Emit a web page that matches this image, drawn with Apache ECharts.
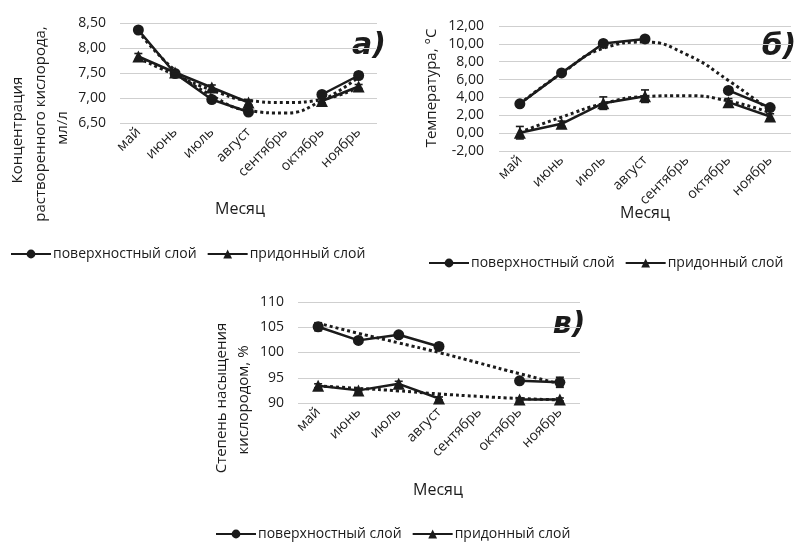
<!DOCTYPE html>
<html><head><meta charset="utf-8">
<script src="https://cdn.jsdelivr.net/npm/echarts@6/dist/echarts.min.js"></script>
<style>html,body{margin:0;padding:0;background:#fff}#c{width:797px;height:543px}</style>
</head><body><div id="c"></div>
<script>
const months = ['май','июнь','июль','август','сентябрь','октябрь','ноябрь'];
const seriesNames = ['поверхностный слой','придонный слой'];
// a) dissolved oxygen, ml/l
const aSurf = [8.36, 7.49, 6.97, 6.72, null, 7.07, 7.45];
const aBot  = [7.83, 7.51, 7.21, 6.91, null, 6.94, 7.23];
const aSurfTrend = [8.33, 7.55, 7.05, 6.75, 6.70, 6.95, 7.42];
const aBotTrend  = [7.80, 7.46, 7.16, 6.95, 6.91, 6.97, 7.21];
const aSurfErr = [0.03, 0.02, 0.02, 0.03, null, 0.03, 0.06];
const aBotErr  = [0.06, 0.02, 0.05, 0.05, null, 0.04, 0.04];
// б) temperature, °C
const bSurf = [3.28, 6.75, 10.05, 10.55, null, 4.78, 2.87];
const bBot  = [0.05, 1.05, 3.36, 4.14, null, 3.47, 1.87];
const bSurfTrend = [3.3, 6.7, 9.5, 10.2, 8.8, 5.9, 2.5];
const bBotTrend  = [0.1, 1.8, 3.3, 4.1, 4.2, 3.6, 2.3];
const bSurfErr = [0.2, 0.2, 0.2, 0.2, null, 0.3, 0.2];
const bBotErr  = [0.7, 0.3, 0.7, 0.7, null, 0.4, 0.3];
// в) oxygen saturation, %
const vSurf = [105.1, 102.4, 103.5, 101.2, null, 94.4, 94.1];
const vBot  = [93.4, 92.5, 93.8, 90.9, null, 90.7, 90.7];
const vSurfTrend = [105.8, 103.8, 101.9, 100.0, 97.9, 95.8, 93.8];
const vBotTrend  = [93.4, 92.9, 92.4, 91.8, 91.3, 90.9, 90.6];
const vSurfErr = [0.8, 0.4, 0.4, 0.6, null, 0.4, 1.0];
const vBotErr  = [0.4, 0.3, 0.5, 0.3, null, 0.3, 0.3];

const FONT = 'Open Sans';
const INK = '#1b1b1b';
const chart = echarts.init(document.getElementById('c'));

const grids = [
  {left:120, top:23, width:257, height:100},
  {left:499, top:26, width:292, height:125},
  {left:298, top:302, width:282, height:101}
];
const yCfg = [
  {min:6.5, max:8.5, interval:0.5, fmt:v=>v.toFixed(2).replace('.',','), margin:14},
  {min:-2, max:12, interval:2, fmt:v=>v.toFixed(2).replace('.',','), margin:15},
  {min:90, max:110, interval:5, fmt:v=>String(v), margin:14}
];
const xAxis = grids.map((g,i)=>({
  type:'category', gridIndex:i, data:months, boundaryGap:true,
  axisLine:{show:false}, axisTick:{show:false},
  axisLabel:{rotate:45, margin:7, fontFamily:FONT, fontSize:14, color:INK}
}));
const yAxis = yCfg.map((c,i)=>({
  type:'value', gridIndex:i, min:c.min, max:c.max, interval:c.interval,
  axisLine:{show:false}, axisTick:{show:false},
  splitLine:{lineStyle:{color:'#cfcfcf', width:1}},
  axisLabel:{formatter:c.fmt, margin:c.margin, fontFamily:FONT, fontSize:14, color:INK}
}));

function lineSeries(name, data, i, symbol){
  return {type:'line', name, data, xAxisIndex:i, yAxisIndex:i, connectNulls:false,
    symbol, symbolSize: symbol==='circle'?11:12, showSymbol:true,
    itemStyle:{color:INK}, lineStyle:{color:INK, width:2.5}, z:4};
}
function trendSeries(data, i){
  return {type:'line', name:'trend'+i, data, xAxisIndex:i, yAxisIndex:i, smooth:true,
    showSymbol:false, symbol:'none', silent:true,
    lineStyle:{color:INK, width:3, type:[3,3]}, z:3};
}
function errSeries(vals, errs, i){
  const d = [];
  vals.forEach((v,k)=>{ if(v!==null && errs[k]!==null) d.push([k, v, errs[k]]); });
  return {type:'custom', name:'err'+i, xAxisIndex:i, yAxisIndex:i, data:d, z:5, silent:true,
    encode:{x:0, y:1},
    renderItem:(p, api)=>{
      const x=api.value(0), v=api.value(1), e=api.value(2);
      const t=api.coord([x, v+e]), b=api.coord([x, v-e]);
      const w=4, st={stroke:INK, lineWidth:1.6};
      return {type:'group', children:[
        {type:'line', shape:{x1:t[0],y1:t[1],x2:b[0],y2:b[1]}, style:st},
        {type:'line', shape:{x1:t[0]-w,y1:t[1],x2:t[0]+w,y2:t[1]}, style:st},
        {type:'line', shape:{x1:b[0]-w,y1:b[1],x2:b[0]+w,y2:b[1]}, style:st}
      ]};
    }};
}
const sets = [
  [aSurf, aBot, aSurfTrend, aBotTrend, aSurfErr, aBotErr],
  [bSurf, bBot, bSurfTrend, bBotTrend, bSurfErr, bBotErr],
  [vSurf, vBot, vSurfTrend, vBotTrend, vSurfErr, vBotErr]
];
const series = [];
sets.forEach((s,i)=>{
  series.push(trendSeries(s[2], i), trendSeries(s[3], i));
  series.push(lineSeries(seriesNames[0], s[0], i, 'circle'));
  series.push(lineSeries(seriesNames[1], s[1], i, 'triangle'));
  series.push(errSeries(s[0], s[4], i), errSeries(s[1], s[5], i));
});

const legendPos = [{left:5, top:242}, {left:423, top:251}, {left:210, top:522}];
const legend = legendPos.map(p=>({
  left:p.left, top:p.top, data:seriesNames, itemWidth:40, itemHeight:11, itemGap:10,
  selectedMode:false, textStyle:{fontFamily:FONT, fontSize:14, color:INK, padding:[0,0,0,-3]}
}));

function txt(x, y, text, opts){
  return Object.assign({type:'text', x, y, silent:true,
    style:Object.assign({text, fontFamily:FONT, fontSize:15, fill:INK, align:'center', verticalAlign:'middle'}, opts&&opts.style||{})},
    opts&&opts.rot?{rotation:Math.PI/2}:{});
}
const tag = {fontSize:30, fontWeight:'bold', fontStyle:'italic', fontFamily:'DejaVu Sans'};
const graphic = [
  txt(18,130,'Концентрация',{rot:1}),
  txt(41,124,'растворенного кислорода,',{rot:1}),
  txt(63,128,'мл/л',{rot:1}),
  txt(432,88,'Температура, °С',{rot:1}),
  txt(222,398,'Степень насыщения',{rot:1}),
  txt(244,400,'кислородом, %',{rot:1}),
  txt(240,209,'Месяц',{style:{fontSize:16}}),
  txt(645,213,'Месяц',{style:{fontSize:16}}),
  txt(438,490,'Месяц',{style:{fontSize:16}}),
  txt(369,46,'a)',{style:tag}),
  txt(779,47,'б)',{style:tag}),
  txt(569,325,'в)',{style:tag})
];

chart.setOption({
  backgroundColor:'#fff', animation:false,
  grid:grids, xAxis, yAxis, series, legend, graphic
});
</script></body></html>
